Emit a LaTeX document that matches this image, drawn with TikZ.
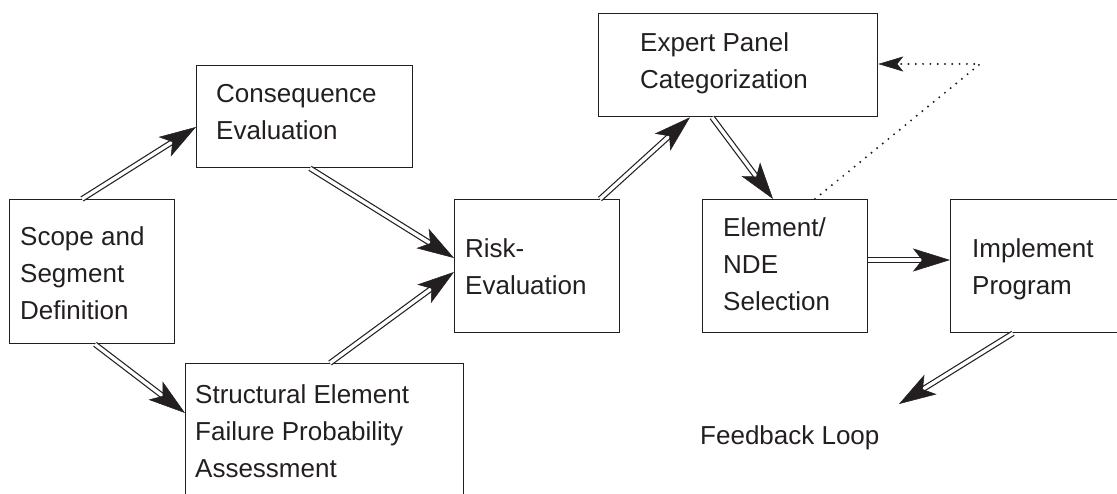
\documentclass[tikz,border=0pt]{standalone}
\usepackage{fontspec}
\setmainfont{Liberation Sans}
\usetikzlibrary{arrows.meta,calc}
\definecolor{ink}{HTML}{231F20}
\tikzset{
  box/.style={draw=ink, line width=1.3pt, inner sep=0pt, anchor=north west},
  txt/.style={text=ink, inner sep=0pt, anchor=base west, align=left,
              font=\fontsize{26}{37}\selectfont},
  dblline/.style={draw=ink, double=white, double distance=3.4pt, line width=1.2pt},
  tipst/.style={draw=ink, fill=ink, line width=0.5pt,
                -{Stealth[length=37pt, width=23pt, inset=9pt]}},
  dotline/.style={draw=ink, line width=2.2pt, line cap=round, dash pattern=on 0pt off 7.3pt},
  dottip/.style={draw=ink, fill=ink, line width=0.5pt,
                 -{Stealth[length=25pt, width=15pt, inset=6pt]}}
}
\newcommand\dblarrow[2]{%
  \draw[dblline, shorten >=24pt] (#1) -- (#2);
  \draw[tipst] ($(#2)!24pt!(#1)$) -- (#2);}
\begin{document}
\begin{tikzpicture}[x=1pt, y=-1pt]
\useasboundingbox (0,0) rectangle (1117,494);
% boxes
\node[box, minimum width=165pt, minimum height=144pt] (scope)  at (9,199)   {};
\node[box, minimum width=216pt, minimum height=102pt] (cons)   at (196,65)  {};
\node[box, minimum width=278pt, minimum height=150pt] (struct) at (185,363) {};
\node[box, minimum width=165pt, minimum height=133pt] (risk)   at (454,199) {};
\node[box, minimum width=279pt, minimum height=103pt] (expert) at (598,13)  {};
\node[box, minimum width=165pt, minimum height=133pt] (elem)   at (702,199) {};
\node[box, minimum width=180pt, minimum height=133pt] (impl)   at (950,199) {};
% texts (anchored at the baseline of their last line)
\node[txt] (scopeT)  at (20,320)  {Scope and\\Segment\\Definition};
\node[txt] (consT)   at (216,140) {Consequence\\Evaluation};
\node[txt] (structT) at (195,477) {Structural Element\\Failure Probability\\Assessment};
\node[txt] (riskT)   at (465,295) {Risk-\\Evaluation};
\node[txt] (expT)    at (640,89)  {Expert Panel\\Categorization};
\node[txt] (elemT)   at (723,311) {Element/\\NDE\\Selection};
\node[txt] (implT)   at (972,295) {Implement\\Program};
\node[txt] (fb)      at (700,444) {Feedback Loop};
% connector end points
\coordinate (a1) at ([xshift=73pt]scope.north west);
\coordinate (b1) at ([yshift=-62pt]cons.north west);
\coordinate (a2) at ([xshift=86pt]scope.south west);
\coordinate (b2) at ([yshift=-50pt]struct.north west);
\coordinate (a3) at ([xshift=114pt]cons.south west);
\coordinate (b3) at ([yshift=-59pt]risk.north west);
\coordinate (a4) at ([xshift=145pt]struct.north west);
\coordinate (b4) at ([yshift=-73pt]risk.north west);
\coordinate (a5) at ([xshift=146pt]risk.north west);
\coordinate (b5) at ([xshift=92pt]expert.south west);
\coordinate (a6) at ([xshift=114pt]expert.south west);
\coordinate (b6) at ([xshift=71pt]elem.north west);
\coordinate (a7) at ([yshift=-61pt]elem.north east);
\coordinate (b7) at ([yshift=-61pt]impl.north west);
\coordinate (a8) at ([xshift=63pt]impl.south west);
\coordinate (b8) at (899,404);
\dblarrow{a1}{b1}
\dblarrow{a2}{b2}
\dblarrow{a3}{b3}
\dblarrow{a4}{b4}
\dblarrow{a5}{b5}
\dblarrow{a6}{b6}
\dblarrow{a7}{b7}
\dblarrow{a8}{b8}
% dotted feedback
\coordinate (d0) at ([xshift=113pt]elem.north west);
\coordinate (d1) at (980,64);
\coordinate (d2) at ([yshift=-51pt]expert.north east);
\draw[dotline] (d0) -- (d1) -- ($(d2)!20pt!(d1)$);
\draw[dottip] ($(d2)!18pt!(d1)$) -- (d2);
\end{tikzpicture}
\end{document}
